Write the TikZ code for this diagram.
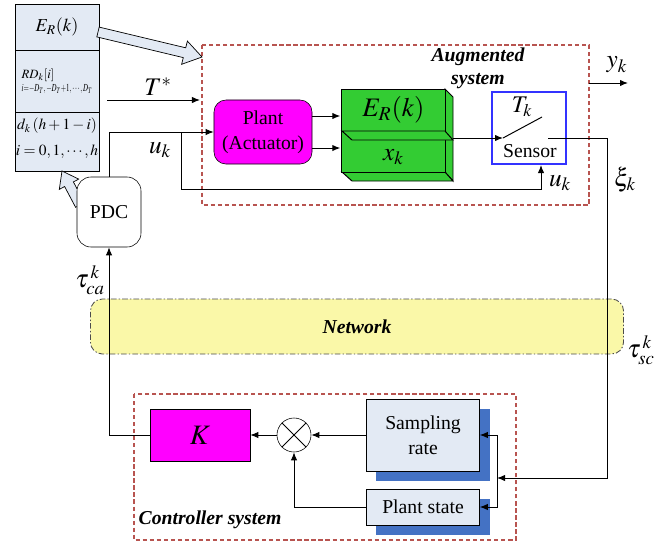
\documentclass[tikz,border=0pt]{standalone}
\usepackage{mathptmx}
\usepackage{fontspec}
\setmainfont{Liberation Serif}
\usetikzlibrary{arrows.meta,shadows}

\definecolor{frameRed}{HTML}{B85450}
\definecolor{boxBlue}{HTML}{E3EAF4}
\definecolor{shadowBlue}{HTML}{4472C4}
\definecolor{plantPink}{HTML}{FF00FF}
\definecolor{storeGreen}{HTML}{33CC33}
\definecolor{netYellow}{HTML}{FAF8A8}
\definecolor{sensBlue}{HTML}{3333FF}

\tikzset{
  txt/.style={font=\fontsize{14}{18}\selectfont},
  mth/.style={font=\fontsize{18}{20}\selectfont},
  bfit/.style={font=\fontsize{14}{16.5}\selectfont\bfseries\itshape},
  sysframe/.style={draw=frameRed, line width=0.8pt, dash pattern=on 3pt off 2pt},
  cell/.style={draw, fill=boxBlue, minimum width=2.1cm, inner sep=0pt},
  wire/.style={line width=0.7pt},
  flow/.style={line width=0.7pt, -{Latex[length=2mm,width=1.6mm]}},
  fatarrow/.style={draw, fill=boxBlue, line width=0.5pt},
  blueshadow/.style={drop shadow={shadow xshift=0.25cm, shadow yshift=-0.25cm, fill=shadowBlue, opacity=1}},
}

\begin{document}
\begin{tikzpicture}[x=0.025cm, y=-0.025cm]
  \useasboundingbox (0,0) rectangle (665,542);

  % network
  \node[draw=black!70, line width=0.6pt, dash pattern=on 4pt off 1.5pt on 1pt off 1.5pt,
        fill=netYellow, rounded corners=0.3cm, minimum width=13.325cm,
        minimum height=1.375cm, bfit] (net) at (357,326.5) {Network};

  % frames
  \draw[sysframe] (202,45) rectangle (589,205);
  \draw[sysframe] (134,394) rectangle (516,540);
  \node[bfit, align=center] (augl) at (478,68) {Augmented\\system};
  \node[bfit] (ctrll) at (210,520) {Controller system};

  % memory stack
  \node[cell, minimum height=1.15cm, font=\fontsize{13}{15}\selectfont] (mem1) at (57,27) {$E_R(k)$};
  \node[cell, minimum height=1.55cm] (mem2) at (57,81) {};
  \node[cell, minimum height=1.475cm] (mem3) at (57,141.5) {};
  \node[font=\fontsize{9}{10}\selectfont, inner sep=0pt] (rdk) at (38,75) {$RD_k[i]$};
  \node[font=\fontsize{9}{10}\selectfont, inner sep=0pt] (rdi) at (57,89)
    {\scalebox{0.55}[0.85]{$i{=}{-}D_T,{-}D_T{+}1,\cdots,D_T$}};
  \node[font=\fontsize{11}{13}\selectfont] (dk) at (57,126) {$d_k\,(h+1-i)$};
  \node[font=\fontsize{11}{13}\selectfont] (di) at (57,152) {$i=0,1,\cdots,h$};

  % wide arrows
  \draw[fatarrow] (99.2,27.1) -- (185.7,47.8) -- (187.4,41.1) -- (202,57)
    -- (181.6,64.3) -- (183.3,57.6) -- (96.8,36.9) -- cycle;
  \draw[fatarrow] (75.6,207.3) -- (64.6,186.5) -- (59.3,189.4) -- (62,171)
    -- (78.7,179.1) -- (73.4,181.9) -- (84.4,202.7) -- cycle;

  % PDC
  \node[draw, fill=white, rounded corners=0.35cm, minimum width=1.6cm,
        minimum height=1.75cm, txt] (pdc) at (109,212) {PDC};

  % plant
  \node[draw, fill=plantPink, rounded corners=0.3cm, minimum width=2.45cm,
        minimum height=1.6cm, align=center, txt] (plant) at (263,132) {Plant\\(Actuator)};

  % storage block
  \filldraw[fill=storeGreen, wire] (445,89) -- (453,97) -- (453,181) -- (445,172) -- cycle;
  \filldraw[fill=storeGreen, wire] (342,172) -- (352,181) -- (453,181) -- (445,172) -- cycle;
  \node[draw, fill=storeGreen, wire, minimum width=2.575cm, minimum height=1.05cm,
        font=\fontsize{19}{21}\selectfont] (erbox) at (393.5,110) {$E_R(k)$};
  \node[draw, fill=storeGreen, wire, minimum width=2.575cm, minimum height=1.025cm] (xkbox) at (393.5,151.5) {};
  \filldraw[fill=storeGreen, wire] (342,131) -- (352,140) -- (453,140) -- (445,131) -- cycle;
  \node[mth] (xk) at (393.5,157) {$x_k$};

  \draw[flow] ([yshift=4mm]plant.east) -- ++(28,0);
  \draw[flow] ([yshift=-4mm]plant.east) -- ++(28,0);

  % sensor
  \node[draw=sensBlue, line width=1.4pt, minimum width=1.85cm, minimum height=1.8cm] (sensor) at (529,128) {};
  \node[txt] (sensl) at (530,151) {Sensor};
  \node[font=\fontsize{17}{19}\selectfont] (tk) at (522,107) {$T_k$};
  \coordinate (gout) at (453,138);
  \coordinate (swin) at (503,138);
  \coordinate (swtip) at (542,117);
  \coordinate (swout) at (548,138);
  \coordinate (rbend) at (607,478);
  \coordinate (fork) at (497,478);
  \draw[flow] (gout) -- (swin);
  \draw[wire] (swin) -- (swtip);
  \draw[flow] (swout) -| (rbend) -- (fork);

  % output
  \coordinate (yout) at (589,83);
  \draw[flow] (yout) -- ++(39,0);
  \node[mth] (yk) at (617,65) {$y_k$};
  \node[mth] (xik) at (625,180) {$\xi_k$};
  \node[mth] (tausc) at (641,350) {$\tau_{sc}^{\,k}$};

  % control input
  \draw[flow] (pdc.north) |- (plant.west);
  \coordinate (ubr) at (181,132);
  \coordinate (ulow) at (181,189);
  \draw[flow] (ubr) -- (ulow) -| ([xshift=3mm]sensor.south);
  \node[mth] (uk1) at (160,150) {$u_k$};
  \node[mth] (uk2) at (560,183) {$u_k$};

  \coordinate (tin) at (107,100);
  \draw[flow] (tin) -- ++(93,0);
  \node[mth] (tstar) at (158,87) {$T^*$};

  % controller
  \node[draw, fill=plantPink, minimum width=2.5cm, minimum height=1.3cm,
        font=\fontsize{20}{22}\selectfont] (kbox) at (200,435) {$K$};
  \node[draw, circle, fill=white, minimum size=0.85cm, inner sep=0pt] (mult) at (294,435) {};
  \draw[wire] (mult.north west) -- (mult.south east) (mult.north east) -- (mult.south west);
  \node[draw, fill=boxBlue, blueshadow, minimum width=2.825cm, minimum height=1.8cm,
        align=center, txt] (samp) at (423,435) {Sampling\\rate};
  \node[draw, fill=boxBlue, blueshadow, minimum width=2.825cm, minimum height=0.9cm,
        txt] (pstate) at (423,507) {Plant state};
  \draw[flow] (samp.west) -- (mult.east);
  \draw[flow] (mult.west) -- (kbox.east);
  \draw[flow] (pstate.west) -| (mult.south);
  \draw[flow] (fork) |- (samp.east);
  \draw[flow] (fork) |- (pstate.east);

  \draw[flow] (kbox.west) -| (pdc.south);
  \node[mth] (tauca) at (90,280) {$\tau_{ca}^{\,k}$};
\end{tikzpicture}
\end{document}
